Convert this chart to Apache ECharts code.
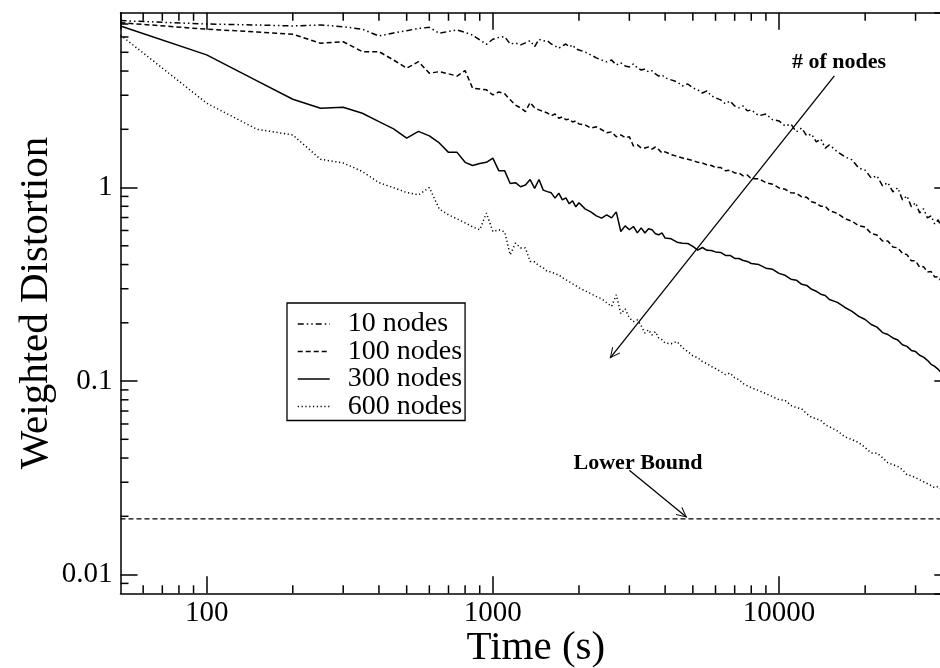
<!DOCTYPE html>
<html><head><meta charset="utf-8">
<script src="https://cdn.jsdelivr.net/npm/echarts@6/dist/echarts.min.js"></script>
<style>html,body{margin:0;padding:0;background:#fff}#c{width:940px;height:668px}</style>
</head><body><div id="c"></div>
<script>
const time = [50,100,150,200,250,300,350,400,450,500,550,600,650,700,750,800,850,900,950,1000,1050,1100,1150,1200,1250,1300,1350,1400,1450,1500,1550,1600,1650,1700,1750,1800,1850,1900,1950,2000,
2100,2200,2300,2400,2500,2600,2700,2800,2900,3000,3100,3200,3300,3400,3500,3600,3700,3800,3900,4000,
4200,4400,4600,4800,5000,5200,5400,5600,5800,6000,6250,6500,6750,7000,7250,7500,7750,8000,
8500,9000,9500,10000,10500,11000,11500,12000,12500,13000,13500,14000,14500,15000,
16000,17000,18000,19000,20000,21000,22000,23000,24000,25000,26000,27000,28000,29000,30000,31000,32000,33000,34000,35000,36000,37000,38000,40000];

const nodes10 = [7.29,7.00,6.92,6.84,6.92,6.78,6.58,6.07,6.29,6.47,6.64,6.73,6.27,6.41,6.52,6.33,6.14,5.79,5.50,5.84,5.97,6.02,5.52,5.59,5.46,5.59,5.74,5.35,5.84,5.72,5.74,5.52,5.39,5.25,5.39,5.52,5.33,5.46,5.20,5.14,
5.02,4.85,4.68,4.56,4.46,4.56,4.30,4.41,4.25,4.20,4.35,4.15,4.05,4.10,3.96,4.01,3.87,3.77,3.82,3.69,
3.60,3.52,3.35,3.43,3.27,3.20,3.08,3.16,2.98,2.91,2.84,2.71,2.80,2.64,2.58,2.64,2.49,2.52,
2.35,2.40,2.24,2.21,2.08,2.13,1.94,2.03,1.85,1.89,1.72,1.78,1.60,1.66,
1.53,1.44,1.39,1.26,1.23,1.12,1.15,1.02,1.06,0.950,0.997,0.864,0.906,0.795,0.834,0.740,0.776,0.697,0.714,0.649,0.681,0.619,0.634,0.590];

const nodes100 = [7.11,6.58,6.37,6.20,5.57,5.67,5.04,5.04,4.56,4.14,4.47,3.90,3.97,3.87,3.77,4.02,3.26,3.23,3.20,3.01,3.12,3.05,2.84,2.67,2.58,2.47,2.75,2.58,2.52,2.47,2.43,2.35,2.40,2.28,2.32,2.24,2.26,2.18,2.21,2.13,
2.11,2.03,2.06,1.99,1.92,1.94,1.83,1.87,1.81,1.83,1.64,1.66,1.60,1.60,1.62,1.58,1.62,1.57,1.51,1.53,
1.48,1.45,1.42,1.40,1.38,1.35,1.34,1.31,1.30,1.27,1.27,1.22,1.23,1.19,1.19,1.15,1.16,1.11,
1.11,1.06,1.04,0.995,0.98,0.94,0.935,0.895,0.89,0.845,0.83,0.80,0.80,0.76,
0.735,0.69,0.67,0.635,0.625,0.578,0.568,0.53,0.53,0.493,0.488,0.458,0.45,0.418,0.418,0.388,0.39,0.366,0.368,0.345,0.346,0.326,0.326,0.30];

const nodes300 = [6.84,4.85,3.56,2.86,2.57,2.60,2.42,2.19,2.01,1.80,1.95,1.85,1.70,1.52,1.52,1.35,1.30,1.33,1.35,1.42,1.22,1.22,1.05,1.06,1.01,1.03,1.10,0.99,1.10,0.97,0.953,0.939,0.882,0.936,0.864,0.885,0.824,0.854,0.795,0.834,
0.776,0.749,0.714,0.695,0.723,0.697,0.749,0.593,0.634,0.605,0.629,0.583,0.619,0.582,0.612,0.605,0.577,0.570,0.583,0.548,
0.543,0.522,0.515,0.514,0.497,0.475,0.490,0.474,0.473,0.465,0.462,0.446,0.446,0.430,0.430,0.420,0.415,0.405,
0.400,0.383,0.378,0.360,0.352,0.336,0.332,0.316,0.312,0.298,0.291,0.281,0.277,0.264,
0.255,0.240,0.229,0.216,0.208,0.196,0.190,0.178,0.174,0.167,0.163,0.154,0.151,0.144,0.142,0.136,0.133,0.128,0.122,0.119,0.115,0.110,0.108,0.102];

const nodes600 = [6.14,2.73,2.00,1.87,1.40,1.34,1.21,1.06,0.998,0.942,0.917,1.00,0.774,0.723,0.689,0.657,0.627,0.605,0.738,0.593,0.605,0.590,0.449,0.516,0.488,0.487,0.415,0.413,0.394,0.385,0.368,0.367,0.358,0.354,0.342,0.334,0.326,0.318,0.311,0.303,
0.293,0.283,0.273,0.266,0.254,0.243,0.279,0.223,0.236,0.212,0.203,0.207,0.193,0.177,0.184,0.173,0.180,0.167,0.1635,0.157,
0.156,0.160,0.149,0.142,0.135,0.132,0.126,0.123,0.119,0.116,0.112,0.108,0.110,0.104,0.1016,0.0969,0.0946,0.0924,
0.0892,0.0861,0.0830,0.0801,0.0795,0.0748,0.0729,0.0718,0.0678,0.0648,0.0639,0.0625,0.0595,0.0581,
0.0552,0.0515,0.0498,0.0481,0.0453,0.0425,0.0424,0.0402,0.0378,0.0370,0.0362,0.0348,0.0328,0.0324,0.0317,0.0309,0.0302,0.0295,0.0288,0.0281,0.0285,0.0275,0.0268,0.0256];

const lowerBound = 0.0194;
const lowerBoundRange = [50, 40000];
const seriesNames = ['10 nodes', '100 nodes', '300 nodes', '600 nodes'];
const xRange = [50, 40000];
const yRange = [0.008, 8];
const xMinorTicks = [60,70,80,90,200,300,400,500,600,700,800,900,2000,3000,4000,5000,6000,7000,8000,9000,20000,30000];
const yMinorTicks = [0.009,0.02,0.03,0.04,0.05,0.06,0.07,0.08,0.09,0.2,0.3,0.4,0.5,0.6,0.7,0.8,0.9,2,3,4,5,6,7];
const arrowNodes = [[15610, 3.774], [2568, 0.1315]];
const arrowBound = [[2999, 0.03456], [4758, 0.01976]];
const labelNodes = [16210, 4.42];
const labelBound = [3217, 0.0374];

const FONT = '"Liberation Serif", "Times New Roman", Times, serif';
const fmt = v => String(+(+v).toPrecision(4));

function xAx(pos, show) {
  return {
    type: 'log', logBase: 10, min: xRange[0], max: xRange[1], position: pos, gridIndex: 0,
    axisLine: {show: true, onZero: false, lineStyle: {color: '#000', width: 1.5}},
    axisTick: {show: true, inside: true, length: 17, lineStyle: {color: '#000', width: 1.5}},
    axisLabel: {show: show, color: '#000', fontFamily: FONT, fontSize: 29, margin: 6,
      showMinLabel: false, showMaxLabel: false, formatter: fmt},
    splitLine: {show: false}, minorTick: {show: false},
    name: show ? 'Time (s)' : '', nameLocation: 'middle', nameGap: 34, nameMoveOverlap: false,
    nameTextStyle: {fontFamily: FONT, fontSize: 41, color: '#000'}
  };
}
function yAx(pos, show) {
  return {
    type: 'log', logBase: 10, min: yRange[0], max: yRange[1], position: pos, gridIndex: 0,
    axisLine: {show: true, onZero: false, lineStyle: {color: '#000', width: 1.5}},
    axisTick: {show: true, inside: true, length: 17, lineStyle: {color: '#000', width: 1.5}},
    axisLabel: {show: show, color: '#000', fontFamily: FONT, fontSize: 29, margin: 8,
      showMinLabel: false, showMaxLabel: false, formatter: fmt},
    splitLine: {show: false}, minorTick: {show: false},
    name: show ? 'Weighted Distortion' : '', nameLocation: 'middle', nameGap: 64, nameMoveOverlap: false,
    nameTextStyle: {fontFamily: FONT, fontSize: 41, color: '#000'}
  };
}
function mk(name, vals, dash) {
  return {
    name: name, type: 'line', xAxisIndex: 0, yAxisIndex: 0,
    data: time.map((t, i) => [t, vals[i]]),
    symbol: 'none', showSymbol: false, silent: true, z: 3,
    lineStyle: {color: '#000', width: 1.5, type: dash},
    itemStyle: {color: '#000'}, emphasis: {disabled: true}
  };
}
const tickStyle = {stroke: '#000', lineWidth: 1.5};
const arrowPath = 'path://M5,0 M5,10 L10,20 L9.2,20.7 L5,12 L0.8,20.7 L0,20 Z';

const chart = echarts.init(document.getElementById('c'), null, {renderer: 'canvas'});
chart.setOption({
  animation: false,
  backgroundColor: '#fff',
  textStyle: {fontFamily: FONT},
  grid: {left: 120.5, top: 12.8, right: -11.3, bottom: 74.7, containLabel: false, outerBoundsMode: 'none'},
  xAxis: [xAx('bottom', true), xAx('top', false)],
  yAxis: [yAx('left', true), yAx('right', false)],
  legend: {
    data: seriesNames, orient: 'vertical', left: 287, top: 303,
    itemWidth: 32, itemHeight: 14, itemGap: -0.5, padding: [7, 3, 0, 10],
    borderColor: '#000', borderWidth: 1.3, borderRadius: 0, backgroundColor: '#fff',
    selectedMode: false,
    itemStyle: {opacity: 0, color: 'rgba(0,0,0,0)', borderWidth: 0},
    lineStyle: {width: 1.5},
    textStyle: {fontFamily: FONT, fontSize: 28, color: '#000', padding: [0, 0, 0, 13]}
  },
  series: [
    mk(seriesNames[0], nodes10, [6, 3, 1.5, 3, 1.5, 3]),
    mk(seriesNames[1], nodes100, [5, 3]),
    mk(seriesNames[2], nodes300, 'solid'),
    mk(seriesNames[3], nodes600, [1.2, 2.6]),
    {
      name: 'Lower Bound', type: 'line', xAxisIndex: 0, yAxisIndex: 0,
      data: lowerBoundRange.map(t => [t, lowerBound]),
      symbol: 'none', silent: true, z: 3,
      lineStyle: {color: '#000', width: 1.3, type: [5, 3]},
      emphasis: {disabled: true},
      markLine: {
        silent: true, animation: false,
        symbol: ['none', arrowPath], symbolSize: [10, 20.7],
        label: {show: false},
        lineStyle: {color: '#000', width: 1.3, type: 'solid'},
        emphasis: {disabled: true},
        data: [
          [{coord: arrowNodes[0]}, {coord: arrowNodes[1]}],
          [{coord: arrowBound[0]}, {coord: arrowBound[1]}]
        ]
      },
      markPoint: {
        silent: true, animation: false,
        symbol: 'rect', symbolSize: 1, itemStyle: {color: 'rgba(0,0,0,0)'},
        label: {show: true, position: 'inside', formatter: '{b}', fontFamily: FONT, fontSize: 22, fontWeight: 'bold', color: '#000'},
        data: [
          {name: '# of nodes', coord: labelNodes},
          {name: 'Lower Bound', coord: labelBound}
        ]
      }
    },
    {
      type: 'custom', xAxisIndex: 0, yAxisIndex: 0, silent: true, clip: false, z: 4,
      data: xMinorTicks.map(t => [t, 1]), encode: {x: 0, y: 1},
      renderItem: function (p, api) {
        const cs = p.coordSys;
        const x = api.coord([api.value(0), 1])[0];
        const yb = cs.y + cs.height, yt = cs.y;
        return {type: 'group', children: [
          {type: 'line', shape: {x1: x, y1: yb, x2: x, y2: yb - 8}, style: tickStyle},
          {type: 'line', shape: {x1: x, y1: yt, x2: x, y2: yt + 8}, style: tickStyle}
        ]};
      }
    },
    {
      type: 'custom', xAxisIndex: 0, yAxisIndex: 0, silent: true, clip: false, z: 4,
      data: yMinorTicks.map(v => [1000, v]), encode: {x: 0, y: 1},
      renderItem: function (p, api) {
        const cs = p.coordSys;
        const y = api.coord([1000, api.value(1)])[1];
        const xl = cs.x, xr = cs.x + cs.width;
        return {type: 'group', children: [
          {type: 'line', shape: {x1: xl, y1: y, x2: xl + 8, y2: y}, style: tickStyle},
          {type: 'line', shape: {x1: xr, y1: y, x2: xr - 8, y2: y}, style: tickStyle}
        ]};
      }
    }
  ]
});
</script></body></html>
